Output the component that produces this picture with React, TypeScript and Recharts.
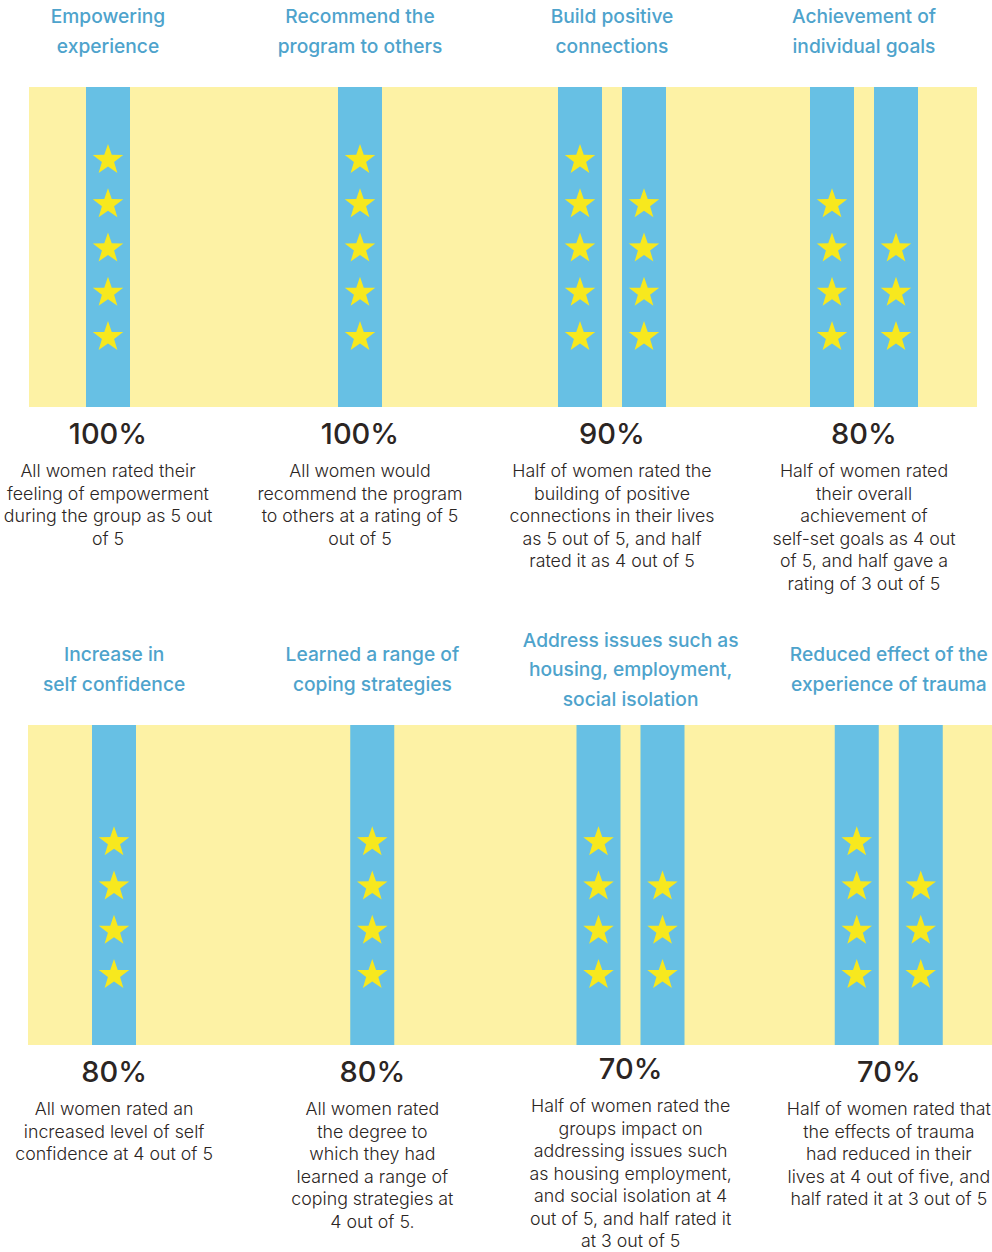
import React from "react";
import { BarChart, Bar, XAxis, YAxis, CartesianGrid } from "recharts";

// panel 1
const topTitles = [
  ["Empowering", "experience"],
  ["Recommend the", "program to others"],
  ["Build positive", "connections"],
  ["Achievement of", "individual goals"],
];
const topPercents = ["100%", "100%", "90%", "80%"];
const topNotes = [
  ["All women rated their", "feeling of empowerment", "during the group as 5 out", "of 5"],
  ["All women would", "recommend the program", "to others at a rating of 5", "out of 5"],
  ["Half of women rated the", "building of positive", "connections in their lives", "as 5 out of 5, and half", "rated it as 4 out of 5"],
  ["Half of women rated", "their overall", "achievement of", "self-set goals as 4 out", "of 5, and half gave a", "rating of 3 out of 5"],
];
const topFirstRating = [5, 5, 5, 4];
const topSecondRating = [null, null, 4, 3];

// panel 2
const bottomTitles = [
  ["Increase in", "self confidence"],
  ["Learned a range of", "coping strategies"],
  ["Address issues such as", "housing, employment,", "social isolation"],
  ["Reduced effect of the", "experience of trauma"],
];
const bottomPercents = ["80%", "80%", "70%", "70%"];
const bottomNotes = [
  ["All women rated an", "increased level of self", "confidence at 4 out of 5"],
  ["All women rated", "the degree to", "which they had", "learned a range of", "coping strategies at", "4 out of 5."],
  ["Half of women rated the", "groups impact on", "addressing issues such", "as housing employment,", "and social isolation at 4", "out of 5, and half rated it", "at 3 out of 5"],
  ["Half of women rated that", "the effects of trauma", "had reduced in their", "lives at 4 out of five, and", "half rated it at 3 out of 5"],
];
const bottomFirstRating = [4, 4, 4, 4];
const bottomSecondRating = [null, null, 3, 3];

const YELLOW = "#fdf2a5";
const BLUE = "#67c0e4";
const STAR = "#f7e81e";
const TITLE = "#4ea3cc";
const INK = "#2b2523";
const FONT = "Inter, 'Open Sans', sans-serif";

const BAR = 44;
const GAP = 20;
const Y_MAX = 7.23;

const starPath = (cx: number, cy: number, r: number) => {
  const inner = r * 0.4;
  const pts: string[] = [];
  for (let i = 0; i < 10; i++) {
    const rad = i % 2 === 0 ? r : inner;
    const a = -Math.PI / 2 + (i * Math.PI) / 5;
    pts.push(`${(cx + rad * Math.cos(a)).toFixed(2)},${(cy + rad * Math.sin(a)).toFixed(2)}`);
  }
  return `M${pts.join("L")}Z`;
};

const makeColumn = (key: "first" | "second") => (props: any) => {
  const { x, y, width, height, payload } = props;
  const rating = payload[key];
  if (rating == null || !height) return null;
  const unit = height / rating;
  const bottom = y + height;
  const top = bottom - Y_MAX * unit;
  // single column groups sit in the middle of the band
  const shift = key === "first" && payload.second == null ? (BAR + GAP) / 2 : 0;
  const cx = x + width / 2 + shift;
  const stars = [];
  for (let k = 1; k <= rating; k++) {
    stars.push(
      <path key={k} d={starPath(cx, bottom - (k + 0.58) * unit, 16)} fill={STAR} />
    );
  }
  return (
    <g>
      <rect x={cx - BAR / 2} y={top} width={BAR} height={bottom - top} fill={BLUE} />
      {stars}
    </g>
  );
};

const TitleTick = ({ x, y, payload, titles }: any) => {
  const lines: string[] = titles[payload.index];
  const mid = y - 56;
  return (
    <text textAnchor="middle" fill={TITLE} fontSize={19.2} fontWeight={500} fontFamily={FONT}>
      {lines.map((l, i) => (
        <tspan key={i} x={x} y={mid + (i - (lines.length - 1) / 2) * 29.5} dominantBaseline="central">
          {l}
        </tspan>
      ))}
    </text>
  );
};

const NoteTick = ({ x, y, payload, percents, notes }: any) => {
  const lines: string[] = notes[payload.index];
  // long notes are nudged up a little
  const lift = lines.length > 6 ? 3 : 0;
  return (
    <g>
      <text x={x} y={y + 26 - lift} textAnchor="middle" dominantBaseline="central" fill={INK} fontSize={29} fontWeight={500} fontFamily={FONT}>
        {percents[payload.index]}
      </text>
      <text textAnchor="middle" fill={INK} fontSize={17.8} fontWeight={300} fontFamily={FONT}>
        {lines.map((l, i) => (
          <tspan key={i} x={x} y={y + 63.5 - lift + i * 22.5} dominantBaseline="central">
            {l}
          </tspan>
        ))}
      </text>
    </g>
  );
};

type PanelProps = {
  titles: string[][];
  percents: string[];
  notes: string[][];
  first: number[];
  second: (number | null)[];
  height: number;
  margin: { top: number; bottom: number; left: number; right: number };
  padding: { left: number; right: number };
};

const Panel = ({ titles, percents, notes, first, second, height, margin, padding }: PanelProps) => {
  const data = first.map((v, i) => ({ name: String(i), first: v, second: second[i] }));
  return (
    <BarChart width={992} height={height} data={data} margin={margin} barSize={BAR} barGap={GAP}>
      <CartesianGrid fill={YELLOW} horizontal={false} vertical={false} stroke="none" />
      <XAxis
        dataKey="name"
        axisLine={false}
        tickLine={false}
        tickSize={0}
        tickMargin={0}
        padding={padding}
        interval={0}
        tick={<NoteTick percents={percents} notes={notes} />}
      />
      <XAxis
        xAxisId="top"
        orientation="top"
        dataKey="name"
        axisLine={false}
        tickLine={false}
        tickSize={0}
        tickMargin={0}
        padding={padding}
        interval={0}
        tick={<TitleTick titles={titles} />}
      />
      <YAxis hide domain={[0, Y_MAX]} allowDataOverflow />
      <Bar dataKey="first" shape={makeColumn("first")} isAnimationActive={false} />
      <Bar dataKey="second" shape={makeColumn("second")} isAnimationActive={false} />
    </BarChart>
  );
};

export default function App() {
  return (
    <div style={{ width: 992, background: "#fff", fontFamily: FONT }}>
      <style>{"body{margin:0;background:#fff;overflow:hidden}"}</style>
      <Panel
        titles={topTitles}
        percents={topPercents}
        notes={topNotes}
        first={topFirstRating}
        second={topSecondRating}
        height={610}
        margin={{ top: 57, bottom: 173, left: 29, right: 15 }}
        padding={{ left: -47, right: -13 }}
      />
      <Panel
        titles={bottomTitles}
        percents={bottomPercents}
        notes={bottomNotes}
        first={bottomFirstRating}
        second={bottomSecondRating}
        height={642}
        margin={{ top: 85, bottom: 177, left: 28, right: 0 }}
        padding={{ left: -43, right: -26 }}
      />
    </div>
  );
}
